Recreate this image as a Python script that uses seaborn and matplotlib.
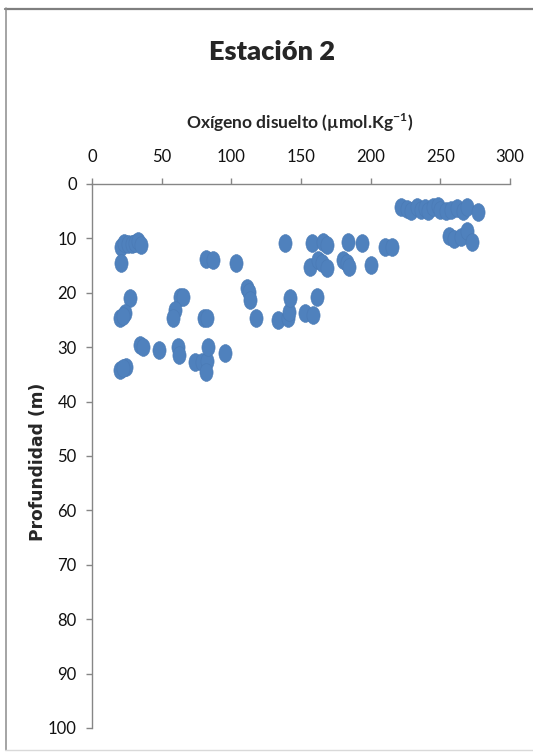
import numpy as np
import pandas as pd
import matplotlib
matplotlib.use('Agg')
import matplotlib.pyplot as plt
import seaborn as sns
from matplotlib.path import Path
from matplotlib.transforms import Affine2D
from matplotlib.lines import Line2D

# Datos (Estacion 2)
oxigeno = [222, 226, 229, 233, 236, 239, 241, 245, 248, 250, 254, 258, 262, 266, 269, 277,
           256, 260, 265, 269, 273,
           21, 23, 26, 29, 31, 33, 35, 21,
           82, 87, 103,
           138.5, 158, 166, 169, 184, 194, 210, 215.5,
           156.5, 162.5, 165, 168.5, 180, 183, 184.7, 200,
           27.3, 23.7, 20.1, 22, 63.2, 65, 59.6, 57.9, 80.4, 82.3,
           111.5, 112.5, 113.4, 117.5, 133.3, 141, 141.5, 142.1, 152.9, 158.9, 161.8,
           34.5, 36.8, 48, 61.5, 62.7, 73.9, 78.7, 82.3, 83, 81.8, 95.5, 20.1, 24.2, 22]
profundidad = [4.3, 4.6, 5.0, 4.2, 4.8, 4.5, 5.0, 4.3, 4.0, 4.7, 5.0, 4.8, 4.5, 5.0, 4.3, 5.2,
               9.6, 10.2, 9.8, 8.7, 10.6,
               11.5, 10.8, 11.0, 11.0, 10.8, 10.5, 11.2, 14.6,
               13.7, 14.0, 14.6,
               10.9, 10.9, 10.6, 11.2, 10.6, 10.8, 11.6, 11.6,
               15.2, 14.0, 14.6, 15.5, 14.0, 14.5, 15.2, 14.9,
               21.0, 23.8, 24.7, 24.3, 20.7, 20.8, 23.2, 24.7, 24.7, 24.7,
               19.2, 19.8, 21.3, 24.6, 25.0, 24.7, 23.5, 21.0, 23.8, 24.1, 20.7,
               29.6, 29.9, 30.5, 29.9, 31.4, 32.7, 32.7, 32.5, 30.0, 34.5, 31.0, 34.1, 33.6, 33.9]

x_ticks = [0, 50, 100, 150, 200, 250, 300]
y_ticks = [0, 10, 20, 30, 40, 50, 60, 70, 80, 90, 100]

df = pd.DataFrame({'oxigeno': oxigeno, 'profundidad': profundidad})

sns.set_theme(style='white')
plt.rcParams['mathtext.fontset'] = 'custom'
plt.rcParams['mathtext.rm'] = 'Lato:bold'
plt.rcParams['mathtext.bf'] = 'Lato:bold'
fuente = ['Lato', 'DejaVu Sans']

fig = plt.figure(figsize=(5.33, 7.52), dpi=100)
ax = fig.add_axes([92/533, 1 - 728/752, 418/533, 544/752])

# marcador eliptico (como en Excel estirado)
elipse = Path.unit_circle().transformed(Affine2D().scale(0.74, 1.0))
sns.scatterplot(data=df, x='oxigeno', y='profundidad', ax=ax, marker=elipse,
                s=165, color='#4f81bd', edgecolor='#4a7ab5', linewidth=0.4)

ax.set_xlim(0, 300)
ax.set_ylim(100, 0)
ax.xaxis.tick_top()
ax.set_xticks(x_ticks)
ax.set_yticks(y_ticks)
for sp in ['right', 'bottom']:
    ax.spines[sp].set_visible(False)
for sp in ['left', 'top']:
    ax.spines[sp].set_color('#868686')
    ax.spines[sp].set_linewidth(1.0)
ax.tick_params(axis='x', top=True, bottom=False, direction='out', length=4,
               width=1, color='#868686', pad=10, labelsize=12, labelcolor='#111111')
ax.tick_params(axis='y', left=True, direction='out', length=4,
               width=1, color='#868686', pad=7, labelsize=12, labelcolor='#111111')
for lab in ax.get_xticklabels() + ax.get_yticklabels():
    lab.set_family(fuente)

ax.set_xlabel(r'Oxígeno disuelto (µmol.Kg$^{\mathregular{-1}}$)', fontsize=12.5,
              fontweight='bold', family=fuente)
ax.xaxis.set_label_position('top')
ax.xaxis.set_label_coords(208/418, (728 - 123)/544)
ax.xaxis.label.set_va('center')

ax.set_ylabel('Profundidad (m)', fontsize=12.3, fontweight='bold', family='DejaVu Sans')
ax.yaxis.set_label_coords((38 - 92)/418, (728 - 462)/544)
ax.yaxis.label.set_va('center')

fig.text(272/533, 1 - 52/752, 'Estación 2', fontsize=19.5, fontweight='heavy',
         family=fuente, ha='center', va='center')

# borde del grafico
fig.add_artist(Line2D([5/533, 1], [1 - 8.5/752, 1 - 8.5/752], transform=fig.transFigure,
                      color='#7f7f7f', lw=1.6))
fig.add_artist(Line2D([5.5/533, 5.5/533], [1 - 8/752, 1 - 750/752], transform=fig.transFigure,
                      color='#8c8c8c', lw=1.1))
fig.add_artist(Line2D([5/533, 1], [1 - 750/752, 1 - 750/752], transform=fig.transFigure,
                      color='#d9d9d9', lw=1.0))

fig.savefig('out.png', dpi=100)
